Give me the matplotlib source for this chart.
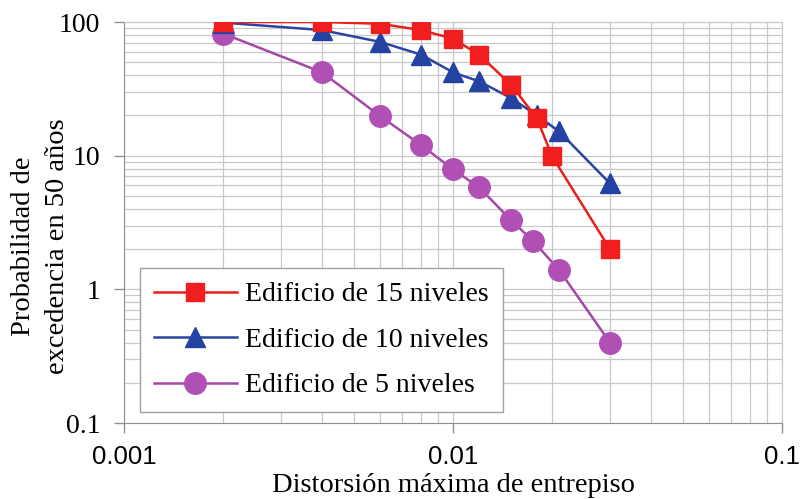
import numpy as np
import matplotlib
matplotlib.use("Agg")
import matplotlib.pyplot as plt
from matplotlib.ticker import LogLocator, FuncFormatter, NullFormatter

# datos
x15 = [0.002, 0.004, 0.006, 0.008, 0.010, 0.012, 0.015, 0.018, 0.020, 0.030]
y15 = [100, 100, 97, 87, 75, 57, 34, 19, 9.9, 2.0]
x10 = [0.002, 0.004, 0.006, 0.008, 0.010, 0.012, 0.015, 0.018, 0.021, 0.030]
y10 = [99, 87, 71, 57, 42, 36, 27, 20, 15.2, 6.2]
x5 = [0.002, 0.004, 0.006, 0.008, 0.010, 0.012, 0.015, 0.0175, 0.021, 0.030]
y5 = [82, 42, 19.8, 12.0, 7.9, 5.8, 3.3, 2.3, 1.4, 0.40]
labels = ["Edificio de 15 niveles", "Edificio de 10 niveles", "Edificio de 5 niveles"]

serif = "Liberation Serif"
sans = "Liberation Sans"

fig = plt.figure(figsize=(8, 4.99), dpi=100)
ax = fig.add_axes([0.155, 0.1523, 0.8225, 0.8036])

ax.plot(x15, y15, color="#e8201c", lw=1.8, marker="s", ms=13,
        mfc="#f01e1e", mec="#f01e1e", label=labels[0], zorder=5)
ax.plot(x10, y10, color="#2a45a0", lw=1.8, marker="^", ms=14,
        mfc="#2442a2", mec="#2442a2", label=labels[1], zorder=4)
ax.plot(x5, y5, color="#a548a8", lw=1.8, marker="o", ms=15.5,
        mfc="#b050b4", mec="#b050b4", label=labels[2], zorder=3)

ax.set_xscale("log")
ax.set_yscale("log")
ax.set_xlim(0.001, 0.1)
ax.set_ylim(0.1, 100)

ax.xaxis.set_major_locator(LogLocator(base=10))
ax.yaxis.set_major_locator(LogLocator(base=10))
ax.xaxis.set_minor_locator(LogLocator(base=10, subs=np.arange(2, 10)))
ax.yaxis.set_minor_locator(LogLocator(base=10, subs=np.arange(2, 10)))
ax.xaxis.set_minor_formatter(NullFormatter())
ax.yaxis.set_minor_formatter(NullFormatter())
fmt = FuncFormatter(lambda v, p: "%g" % v)
ax.xaxis.set_major_formatter(fmt)
ax.yaxis.set_major_formatter(fmt)

ax.grid(True, which="both", color="#c8c8c8", lw=0.9)
ax.set_axisbelow(True)

ax.tick_params(which="major", length=7, width=1, color="#909090")
ax.tick_params(axis="y", pad=10)
ax.tick_params(axis="x", pad=9)
ax.tick_params(which="minor", length=0)
for lab in ax.get_xticklabels():
    lab.set_fontfamily(sans)
    lab.set_fontsize(18.5)
for lab in ax.get_yticklabels():
    lab.set_fontfamily(serif)
    lab.set_fontsize(20)

for side in ["left", "bottom"]:
    ax.spines[side].set_color("#909090")
for side in ["top", "right"]:
    ax.spines[side].set_color("#c8c8c8")

ax.set_xlabel("Distorsión máxima de entrepiso", fontfamily=serif,
              fontsize=20.5, labelpad=3)
ax.set_ylabel("Probabilidad de\nexcedencia en 50 años", fontfamily=serif,
              fontsize=20.5, linespacing=1.45)
ax.yaxis.set_label_coords(-0.082, 0.44)

leg = ax.legend(loc="lower left", bbox_to_anchor=(0.024, 0.027),
                prop={"family": serif, "size": 20}, fancybox=False,
                framealpha=1, edgecolor="#a0a0a0", handlelength=3.0,
                borderpad=0.5, labelspacing=0.72, handletextpad=0.3,
                borderaxespad=0)
leg.get_frame().set_linewidth(1)

fig.savefig("out.png", dpi=100)
